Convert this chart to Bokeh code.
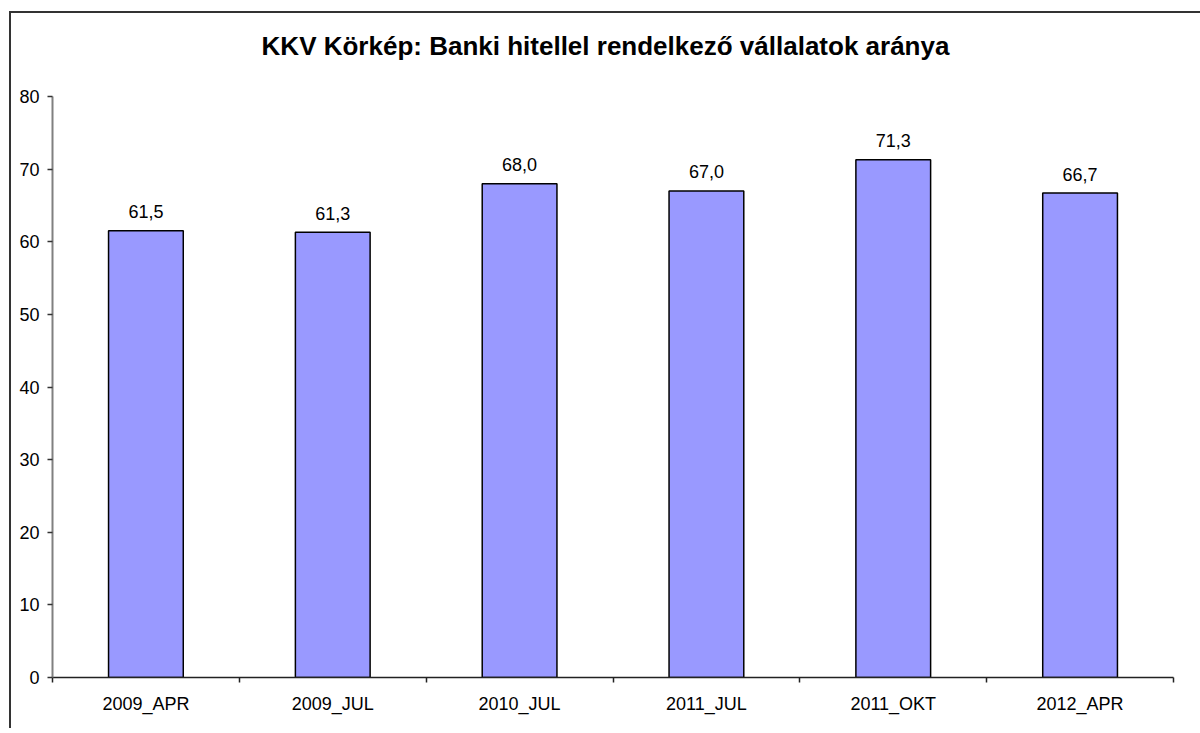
from bokeh.plotting import figure
from bokeh.models import Range1d, LinearAxis, FixedTicker, ColumnDataSource, Div
from bokeh.layouts import column
from bokeh.core.properties import value
from bokeh.embed import file_html
from bokeh.resources import INLINE

categories = ["2009_APR", "2009_JUL", "2010_JUL", "2011_JUL", "2011_OKT", "2012_APR"]
values = [61.5, 61.3, 68.0, 67.0, 71.3, 66.7]
y_ticks = [0, 10, 20, 30, 40, 50, 60, 70, 80]
title_text = "KKV Körkép: Banki hitellel rendelkező vállalatok aránya"

n = len(categories)
centers = [i + 0.5 for i in range(n)]
labels = [f"{v:.1f}".replace(".", ",") for v in values]
src = ColumnDataSource(dict(x=centers, val=values, lab=labels))

FONT = "Liberation Sans"

title_div = Div(
    text=('<div style="font-family:\'Liberation Sans\'; font-weight:bold; font-size:26px; '
          'line-height:30px; color:black; text-align:center; width:1189px; padding-top:18px;">'
          + title_text + '</div>'),
    width=1189, height=60, margin=(0, 0, 0, 0))

p = figure(width=1189, height=655, x_range=Range1d(0, n), y_range=Range1d(0, 80),
           output_backend="svg", toolbar_location=None, x_axis_location=None,
           min_border_left=41, min_border_right=27, min_border_top=23, min_border_bottom=51)

p.outline_line_color = None
p.xgrid.visible = False
p.ygrid.visible = False
p.background_fill_color = "white"
p.border_fill_color = "white"

# category boundary ticks
tick_axis = LinearAxis(ticker=FixedTicker(ticks=list(range(n + 1))),
                       major_label_overrides={i: "" for i in range(n + 1)},
                       major_label_text_font_size="1px", major_label_standoff=0)
tick_axis.axis_line_color = "#222222"
tick_axis.axis_line_width = 1.5
tick_axis.major_tick_line_color = "#222222"
tick_axis.major_tick_line_width = 1.5
tick_axis.major_tick_in = 0
tick_axis.major_tick_out = 5
tick_axis.minor_tick_line_color = None
p.add_layout(tick_axis, "below")

# category labels
cat_axis = LinearAxis(ticker=FixedTicker(ticks=centers),
                      major_label_overrides={c: name for c, name in zip(centers, categories)})
cat_axis.axis_line_color = None
cat_axis.major_tick_line_color = None
cat_axis.minor_tick_line_color = None
cat_axis.major_label_text_font = FONT
cat_axis.major_label_text_font_size = "18px"
cat_axis.major_label_text_color = "black"
cat_axis.major_label_standoff = 5
p.add_layout(cat_axis, "below")

p.yaxis.ticker = FixedTicker(ticks=y_ticks)
p.yaxis.axis_line_color = "#808080"
p.yaxis.axis_line_width = 2
p.yaxis.major_tick_line_color = "#333333"
p.yaxis.major_tick_line_width = 1.5
p.yaxis.major_tick_in = 0
p.yaxis.major_tick_out = 5
p.yaxis.minor_tick_line_color = None
p.yaxis.major_label_text_font = FONT
p.yaxis.major_label_text_font_size = "18px"
p.yaxis.major_label_text_color = "black"
p.yaxis.major_label_standoff = 8

p.vbar(x="x", top="val", width=0.4, source=src, fill_color="#9999FF",
       line_color="black", line_width=1.5)

p.text(x="x", y="val", text="lab", source=src, text_align="center", text_baseline="alphabetic",
       y_offset=-19, text_font=value(FONT), text_font_size="18px", text_color="black")

layout = column(title_div, p, spacing=0)
layout.styles = {"border-left": "2px solid #333333", "border-top": "2px solid #333333",
                 "margin-top": "11px", "margin-left": "9px", "background-color": "white"}

open("out.html", "w").write(file_html(layout, INLINE))
